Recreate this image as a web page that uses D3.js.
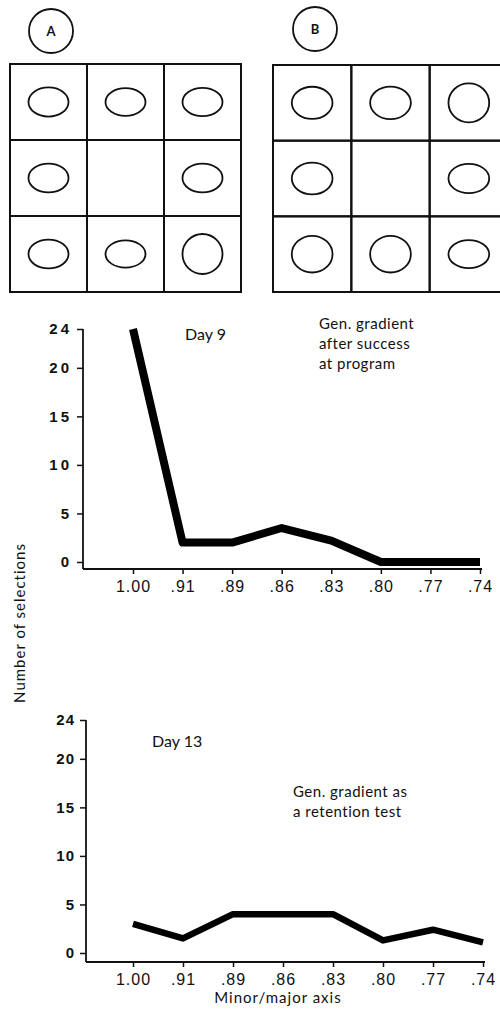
<!DOCTYPE html>
<html>
<head>
<meta charset="utf-8">
<script src="https://cdn.jsdelivr.net/npm/d3@7"></script>
<style>
  body { margin: 0; background: #fff; }
  svg { display: block; }
  text { font-family: "Lato", "Liberation Sans", sans-serif; fill: #111; }
</style>
</head>
<body>
<div id="fig"></div>
<script>
// minor/major axis ratio in each cell of the 3x3 displays (null = empty centre cell)
const gridA = [0.73, 0.69, 0.71, 0.72, null, 0.72, 0.72, 0.68, 1.00];
const gridB = [0.79, 0.80, 0.96, 0.78, null, 0.72, 0.90, 0.90, 0.69];
const panelLabels = ["A", "B"];

const ratios = ["1.00", ".91", ".89", ".86", ".83", ".80", ".77", ".74"];
const day9 = [24, 2, 2, 3.5, 2.2, 0, 0, 0];
const day13 = [3, 1.5, 4, 4, 4, 1.3, 2.4, 1.1];
const yTicks = [0, 5, 10, 15, 20, 24];

const W = 500, H = 1017;
const svg = d3.select("#fig").append("svg").attr("width", W).attr("height", H);

// ---------- top: the two stimulus displays ----------
function drawGrid(cells, x0, x1, y0, y1, label, cx, cy) {
    const g = svg.append("g");
    const col = d3.scaleBand().domain([0, 1, 2]).range([x0, x1]);
    const row = d3.scaleBand().domain([0, 1, 2]).range([y0, y1]);

    g.append("circle")
        .attr("cx", cx).attr("cy", cy).attr("r", 22)
        .attr("fill", "none").attr("stroke", "#111").attr("stroke-width", 1.8);
    g.append("text")
        .attr("x", cx).attr("y", cy).attr("dy", "0.36em")
        .attr("text-anchor", "middle")
        .style("font-size", "13px").style("font-weight", "bold")
        .text(label);

    const data = cells.map((r, i) => ({ r: r, c: i % 3, w: Math.floor(i / 3) }));

    g.selectAll("rect.cell")
        .data(data)
        .enter()
        .append("rect")
        .attr("class", "cell")
        .attr("x", d => col(d.c))
        .attr("y", d => row(d.w))
        .attr("width", col.bandwidth())
        .attr("height", row.bandwidth())
        .attr("fill", "none")
        .attr("stroke", "#111")
        .attr("stroke-width", 2);

    const rx = col.bandwidth() * 0.26;
    g.selectAll("ellipse")
        .data(data.filter(d => d.r !== null))
        .enter()
        .append("ellipse")
        .attr("cx", d => col(d.c) + col.bandwidth() / 2)
        .attr("cy", d => row(d.w) + row.bandwidth() / 2)
        .attr("rx", rx)
        .attr("ry", d => rx * d.r)
        .attr("fill", "none")
        .attr("stroke", "#111")
        .attr("stroke-width", 1.8);
}

drawGrid(gridA, 10, 241, 64, 292, panelLabels[0], 51, 31);
drawGrid(gridB, 273, 508, 65, 292, panelLabels[1], 315, 29);

// ---------- gradient charts ----------
function drawChart(values, opt) {
    const g = svg.append("g");
    const x = d3.scalePoint().domain(ratios).range([opt.xStart, opt.xEnd]);
    const y = d3.scaleLinear().domain([0, 24]).range([opt.yZero, opt.yTop]);

    // y axis
    const yAxis = g.append("g")
        .attr("transform", `translate(${opt.axisX},0)`)
        .call(d3.axisLeft(y).tickValues(yTicks).tickSize(6).tickPadding(5));
    yAxis.select(".domain").remove();
    yAxis.selectAll(".tick line").attr("stroke", "#111").attr("stroke-width", 1.5);
    yAxis.selectAll("text")
        .style("font-family", "'Liberation Sans', sans-serif")
        .style("font-size", "15px")
        .style("font-weight", "bold")
        .style("letter-spacing", opt.yLetter)
        .attr("fill", "#111");

    g.append("line")
        .attr("x1", opt.axisX).attr("x2", opt.axisX)
        .attr("y1", y(24)).attr("y2", opt.axisY)
        .attr("stroke", "#111").attr("stroke-width", 1.8);

    // x axis
    const xAxis = g.append("g")
        .attr("transform", `translate(0,${opt.axisY})`)
        .call(d3.axisBottom(x).tickSize(5).tickPadding(7));
    xAxis.select(".domain").remove();
    xAxis.selectAll(".tick line").attr("stroke", "#111").attr("stroke-width", 1.5);
    xAxis.selectAll("text")
        .style("font-family", "'Liberation Sans', sans-serif")
        .style("font-size", "16px")
        .style("letter-spacing", "1px")
        .attr("fill", "#111");

    g.append("line")
        .attr("x1", opt.axisX).attr("x2", opt.xEnd + 2)
        .attr("y1", opt.axisY).attr("y2", opt.axisY)
        .attr("stroke", "#111").attr("stroke-width", 1.8);

    // data line
    const line = d3.line()
        .x((d, i) => x(ratios[i]))
        .y(d => y(d));
    g.append("path")
        .datum(values)
        .attr("d", line)
        .attr("fill", "none")
        .attr("stroke", "#000")
        .attr("stroke-width", opt.lineW)
        .attr("stroke-linejoin", "round");

    // annotations
    g.append("text")
        .attr("x", opt.dayX).attr("y", opt.dayY)
        .style("font-size", "16px")
        .text(opt.day);

    g.selectAll("text.note")
        .data(opt.note)
        .enter()
        .append("text")
        .attr("class", "note")
        .attr("x", opt.noteX)
        .attr("y", (d, i) => opt.noteY + i * 20)
        .style("font-size", "15px")
        .style("letter-spacing", "0.5px")
        .text(d => d);
}

drawChart(day9, {
    xStart: 133, xEnd: 480, yZero: 562, yTop: 329,
    axisX: 83, axisY: 569, lineW: 8, yLetter: "3px",
    day: "Day 9", dayX: 185, dayY: 340,
    note: ["Gen. gradient", "after success", "at program"], noteX: 319, noteY: 329
});

drawChart(day13, {
    xStart: 133, xEnd: 483, yZero: 953, yTop: 720,
    axisX: 86, axisY: 962, lineW: 6.5, yLetter: "1px",
    day: "Day 13", dayX: 152, dayY: 747,
    note: ["Gen. gradient as", "a retention test"], noteX: 293, noteY: 797
});

// shared axis titles
svg.append("text")
    .attr("transform", "translate(25,623) rotate(-90)")
    .attr("text-anchor", "middle")
    .style("font-size", "15px")
    .style("letter-spacing", "1px")
    .text("Number of selections");

svg.append("text")
    .attr("x", 278).attr("y", 1003)
    .attr("text-anchor", "middle")
    .style("font-size", "15px")
    .style("letter-spacing", "1px")
    .text("Minor/major axis");
</script>
</body>
</html>
